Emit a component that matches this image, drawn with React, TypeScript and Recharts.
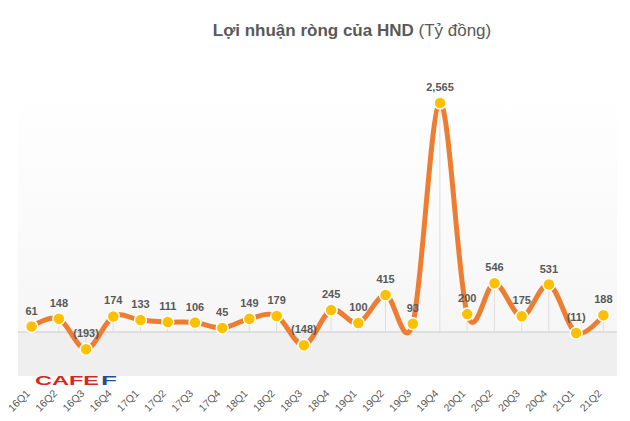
import {
  ComposedChart,
  Line,
  Bar,
  XAxis,
  YAxis,
  ReferenceArea,
  ReferenceLine,
  LabelList,
} from "recharts";

const quarters = [
  "16Q1", "16Q2", "16Q3", "16Q4", "17Q1", "17Q2", "17Q3", "17Q4",
  "18Q1", "18Q2", "18Q3", "18Q4", "19Q1", "19Q2", "19Q3", "19Q4",
  "20Q1", "20Q2", "20Q3", "20Q4", "21Q1", "21Q2",
];
const profit = [
  61, 148, -193, 174, 133, 111, 106, 45, 149, 179, -148, 245, 100, 415, 93, 2565,
  200, 546, 175, 531, -11, 188,
];
const yDomain = [-493, 2710];

const data = quarters.map((q, i) => ({ q, value: profit[i] }));

// Catmull-Rom style smoothing, close to Excel's "smoothed line"
function smoothCurve(context: any) {
  const k = 1 / 6;
  let x0 = NaN, x1 = NaN, x2 = NaN, y0 = NaN, y1 = NaN, y2 = NaN;
  let n = 0;
  const seg = (x: number, y: number) =>
    context.bezierCurveTo(
      x1 + k * (x2 - x0),
      y1 + k * (y2 - y0),
      x2 + k * (x1 - x),
      y2 + k * (y1 - y),
      x2,
      y2
    );
  return {
    areaStart() {},
    areaEnd() {},
    lineStart() {
      x0 = x1 = x2 = y0 = y1 = y2 = NaN;
      n = 0;
    },
    lineEnd() {
      if (n === 2) context.lineTo(x2, y2);
      else if (n === 3) seg(x1, y1);
    },
    point(x: number, y: number) {
      x = +x;
      y = +y;
      if (n === 0) {
        n = 1;
        context.moveTo(x, y);
      } else if (n === 1) {
        n = 2;
        x1 = x;
        y1 = y;
      } else {
        n = 3;
        seg(x, y);
      }
      x0 = x1; x1 = x2; x2 = x;
      y0 = y1; y1 = y2; y2 = y;
    },
  };
}

const fmt = (v: number) => {
  const s = Math.abs(v).toLocaleString("en-US");
  return v < 0 ? `(${s})` : s;
};

const ValueLabel = (props: any) => {
  const { x, y, value } = props;
  return (
    <text
      x={x}
      y={y - 12}
      textAnchor="middle"
      fontSize={11}
      fontWeight="bold"
      fill="#595959"
      fontFamily="'Liberation Sans', Arial, sans-serif"
    >
      {fmt(value)}
    </text>
  );
};

const QuarterTick = (props: any) => {
  const { x, y, payload } = props;
  const tx = x - 1;
  const ty = y + 10;
  return (
    <text
      x={tx}
      y={ty}
      transform={`rotate(-45, ${tx}, ${ty})`}
      textAnchor="end"
      fontSize={10.5}
      fill="#595959"
      fontFamily="'Liberation Sans', Arial, sans-serif"
    >
      {payload.value}
    </text>
  );
};

const Dot = (props: any) => {
  const { cx, cy, index } = props;
  return <circle key={index} cx={cx} cy={cy} r={6} fill="#FFC000" stroke="#fff" strokeWidth={1.5} />;
};

export default function App() {
  return (
    <div style={{ position: "absolute", left: 0, top: 0, width: 630, height: 421, background: "#fff" }}>
      <ComposedChart
        width={630}
        height={421}
        data={data}
        margin={{ top: 90, right: 13, bottom: 15, left: 18 }}
      >
        <defs>
          <linearGradient id="plotBg" x1="0" y1="0" x2="0" y2="1">
            <stop offset="0%" stopColor="#ffffff" />
            <stop offset="100%" stopColor="#f6f6f6" />
          </linearGradient>
        </defs>
        <XAxis
          dataKey="q"
          axisLine={false}
          tickLine={false}
          interval={0}
          height={30}
          tick={<QuarterTick />}
        />
        <YAxis hide type="number" domain={yDomain} allowDataOverflow />
        <ReferenceArea y1={0} y2={yDomain[1]} fill="url(#plotBg)" fillOpacity={1} stroke="none" ifOverflow="hidden" />
        <ReferenceArea y1={yDomain[0]} y2={0} fill="#efefef" fillOpacity={1} stroke="none" />
        <ReferenceLine y={0} stroke="#d9d9d9" strokeWidth={1.5} />
        <Bar dataKey="value" barSize={1} fill="#dedede" isAnimationActive={false} />
        <Line
          dataKey="value"
          type={smoothCurve as any}
          stroke="#ED7D31"
          strokeWidth={5}
          dot={<Dot />}
          activeDot={false}
          isAnimationActive={false}
        >
          <LabelList dataKey="value" content={<ValueLabel />} />
        </Line>
      </ComposedChart>
      <svg
        width={630}
        height={421}
        style={{ position: "absolute", left: 0, top: 0, pointerEvents: "none" }}
      >
        <text
          x={352}
          y={36}
          textAnchor="middle"
          fontSize={17}
          fill="#595959"
          fontFamily="'Liberation Sans', Arial, sans-serif"
        >
          <tspan fontWeight="bold">Lợi nhuận ròng của HND</tspan>
          <tspan> (Tỷ đồng)</tspan>
        </text>
        <text
          x={35}
          y={385}
          fontSize={12}
          fontWeight="bold"
          fill="#d7261e"
          textLength={64}
          lengthAdjust="spacingAndGlyphs"
          fontFamily="'Liberation Sans', Arial, sans-serif"
        >
          CAFE
        </text>
        <text
          x={101}
          y={385}
          fontSize={12}
          fontWeight="bold"
          fill="#1f4f9c"
          textLength={16}
          lengthAdjust="spacingAndGlyphs"
          fontFamily="'Liberation Sans', Arial, sans-serif"
        >
          F
        </text>
      </svg>
    </div>
  );
}
